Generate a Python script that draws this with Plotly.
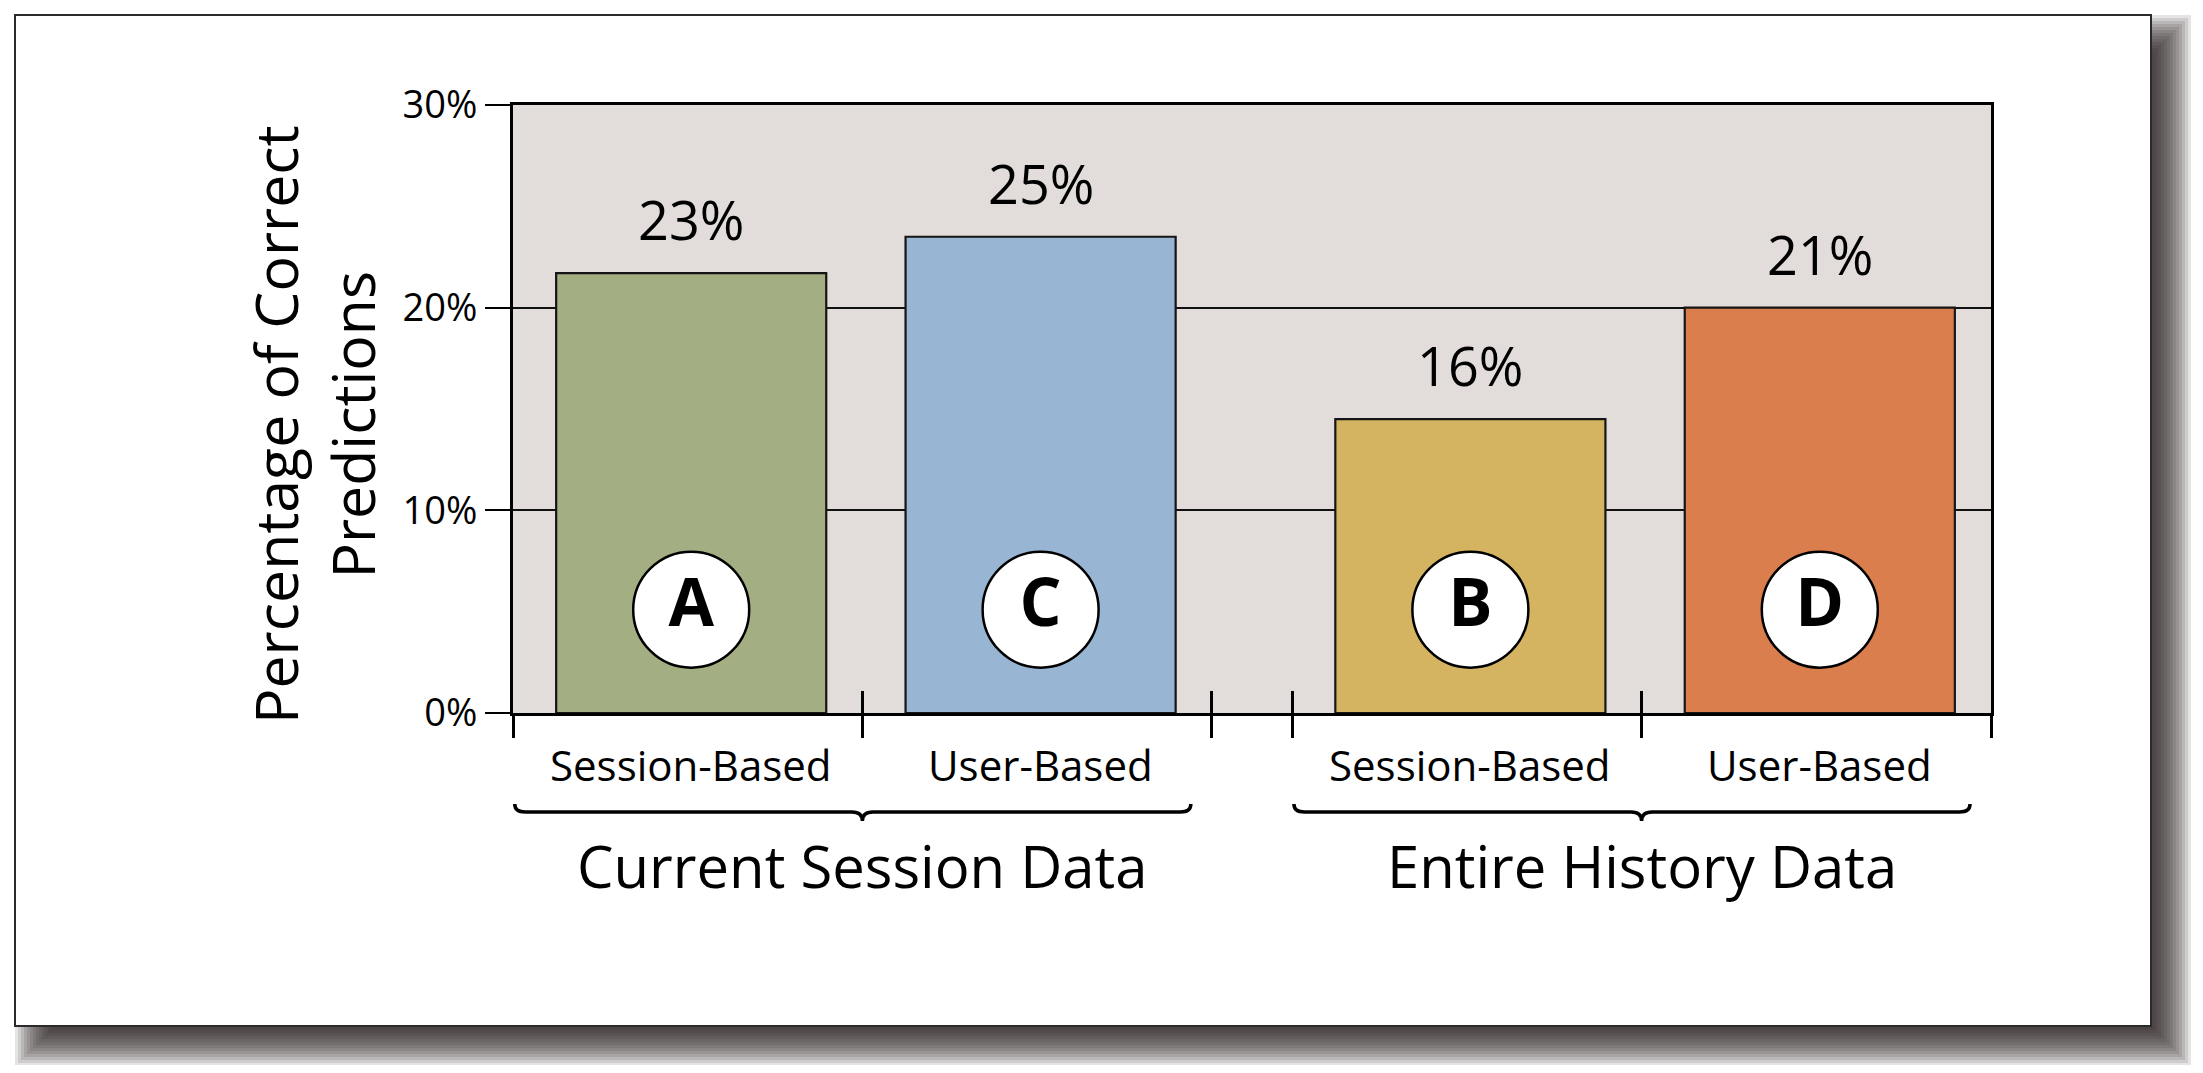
import plotly.graph_objects as go

# ---- data ----
categories = ["Session-Based", "User-Based", "Session-Based", "User-Based"]
groups = ["Current Session Data", "Entire History Data"]
bar_heights = [21.7, 23.5, 14.5, 20.0]          # bar tops as drawn
value_labels = ["23%", "25%", "16%", "21%"]      # labels printed above bars
badges = ["A", "C", "B", "D"]
y_ticks = [0, 10, 20, 30]
y_tick_labels = ["0%", "10%", "20%", "30%"]
colors = ["#A3AE82", "#98B5D3", "#D4B460", "#DA7E4E"]

# ---- layout helpers ----
PAGE = 8                                     # default body margin of the page
W, H = 2203 - 2 * PAGE, 1073 - 2 * PAGE
PW, PH = 1478, 608
ML, MT = 513 - PAGE, 105 - PAGE
MR, MB = W - ML - PW, H - MT - PH
FONT = "Open Sans"

GAP = 0.23                                   # gap between the two groups
slot_left = [0, 1, 2 + GAP, 3 + GAP]
bar_x = [s + 0.51 for s in slot_left]
group_span = [(0, 2), (2 + GAP, 4 + GAP)]
XMAX = 4 + GAP
boundaries = [0, 1, 2, 2 + GAP, 3 + GAP, 4 + GAP]


def px(x):   # page pixel x -> paper
    return (x - PAGE - ML) / PW


def py(y):   # page pixel y -> paper
    return (MT + PH - (y - PAGE)) / PH


def dx(v):   # data x -> paper
    return v / XMAX


fig = go.Figure()

fig.add_trace(go.Bar(
    x=bar_x, y=bar_heights, width=0.773,
    marker=dict(color=colors, line=dict(color="#151515", width=2.2)),
    hoverinfo="skip", showlegend=False,
))

# lettered badges
fig.add_trace(go.Scatter(
    x=bar_x, y=[5.1] * len(bar_x), mode="markers+text", text=badges,
    textposition="middle center",
    textfont=dict(family=FONT, size=66, color="black", weight="bold"),
    marker=dict(size=116, color="white", line=dict(color="black", width=2.5)),
    hoverinfo="skip", showlegend=False,
))

# dummy trace so the overlay axis (inner tick marks) is drawn
fig.add_trace(go.Scatter(x=[0], y=[0], mode="none", xaxis="x2",
                         hoverinfo="skip", showlegend=False))

shapes = []
# drop shadow of the frame (right / bottom)
fx0, fy0, fx1, fy1 = 15, 15, 2151, 1026
off = 20
for e in range(-16, 22, 3):
    shapes.append(dict(
        type="rect", xref="paper", yref="paper", layer="below",
        x0=px(fx0 + off - e), x1=px(fx1 + off + e),
        y0=py(fy0 + off - e), y1=py(fy1 + off + e),
        fillcolor="rgba(40,35,36,0.12)", line=dict(width=0),
    ))
# white framed card
shapes.append(dict(type="rect", xref="paper", yref="paper", layer="below",
                   x0=px(fx0), x1=px(fx1), y0=py(fy0), y1=py(fy1),
                   fillcolor="white", line=dict(color="#2a2a2a", width=2)))
# plot background
shapes.append(dict(type="rect", xref="paper", yref="paper", layer="below",
                   x0=0, x1=1, y0=0, y1=1, fillcolor="#E2DDDB",
                   line=dict(width=0)))

# braces under each group
yl, yt, yn = py(812), py(804), py(821)
d = 0.03
for (g0, g1) in group_span:
    a, b, c = g0 + 0.005, g1 - 0.06, (g0 + g1) / 2
    path = (f"M {dx(a)},{yt} Q {dx(a)},{yl} {dx(a + d)},{yl} "
            f"L {dx(c - d)},{yl} Q {dx(c)},{yl} {dx(c)},{yn} "
            f"Q {dx(c)},{yl} {dx(c + d)},{yl} "
            f"L {dx(b - d)},{yl} Q {dx(b)},{yl} {dx(b)},{yt}")
    shapes.append(dict(type="path", xref="paper", yref="paper", path=path,
                       line=dict(color="black", width=3.5)))

annotations = []
# values above bars
for x, h, t in zip(bar_x, bar_heights, value_labels):
    annotations.append(dict(x=x, y=h, xref="x", yref="y", text=t,
                            showarrow=False, yshift=54,
                            xanchor="center", yanchor="middle",
                            font=dict(family=FONT, size=54, color="black")))
# category labels
for x, t in zip(bar_x, categories):
    annotations.append(dict(x=dx(x), y=py(764), xref="paper", yref="paper",
                            text=t, showarrow=False,
                            xanchor="center", yanchor="middle",
                            font=dict(family=FONT, size=42, color="black")))
# group labels
for (g0, g1), t in zip(group_span, groups):
    annotations.append(dict(x=dx((g0 + g1) / 2), y=py(865), xref="paper",
                            yref="paper", text=t, showarrow=False,
                            xanchor="center", yanchor="middle",
                            font=dict(family=FONT, size=58, color="black")))
# y axis title
annotations.append(dict(x=px(313), y=py(425), xref="paper", yref="paper",
                        text="Percentage of Correct<br>Predictions",
                        textangle=-90, showarrow=False,
                        xanchor="center", yanchor="middle",
                        font=dict(family=FONT, size=59, color="black")))

fig.update_layout(
    width=W, height=H,
    margin=dict(l=ML, r=MR, t=MT, b=MB),
    paper_bgcolor="white", plot_bgcolor="rgba(0,0,0,0)",
    font=dict(family=FONT, color="black"),
    showlegend=False,
    shapes=shapes, annotations=annotations,
    xaxis=dict(range=[0, XMAX], tickvals=boundaries, showticklabels=False,
               ticks="outside", ticklen=22, tickwidth=2.5, tickcolor="black",
               showgrid=False, zeroline=False, showline=True, linewidth=3,
               linecolor="black", mirror=True, fixedrange=True),
    xaxis2=dict(range=[0, XMAX], tickvals=boundaries, showticklabels=False,
                ticks="inside", ticklen=22, tickwidth=2.5, tickcolor="black",
                showgrid=False, zeroline=False, showline=False,
                overlaying="x", anchor="y", side="bottom", fixedrange=True),
    yaxis=dict(range=[0, 30], tickvals=y_ticks, ticktext=y_tick_labels,
               ticks="outside", ticklen=25, tickwidth=2, tickcolor="black",
               tickfont=dict(family=FONT, size=38, color="black"),
               showgrid=True, gridcolor="#111111", gridwidth=1.5,
               zeroline=False, showline=True, linewidth=3, linecolor="black",
               mirror=True, fixedrange=True),
)

fig.write_html("out.html")
